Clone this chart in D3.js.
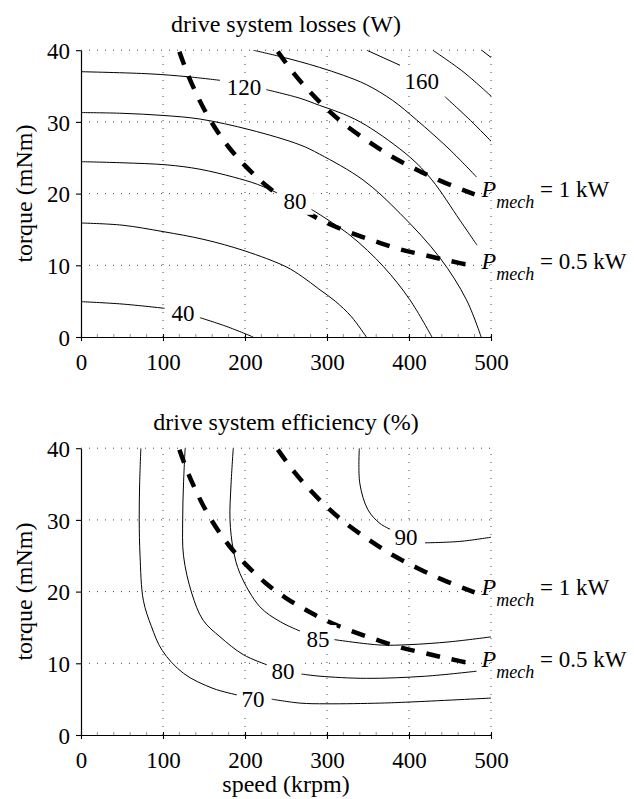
<!DOCTYPE html>
<html>
<head>
<meta charset="utf-8">
<script src="https://cdn.jsdelivr.net/npm/d3@7"></script>
<style>
  body { margin: 0; background: #fff; }
  text { white-space: pre; }
</style>
</head>
<body>
<svg id="chart" width="634" height="799"></svg>
<script>
// ---- axis ticks ----
const speedTicks = [0, 100, 200, 300, 400, 500];
const torqueTicks = [0, 10, 20, 30, 40];

// ---- drive system losses (W): contour segments, [speed krpm, torque mNm] ----
const loss40 = [
  [[0, 4.93], [50, 4.6], [102, 4.0]],
  [[145, 2.7], [178, 1.45], [210, 0]]
];
const loss60 = [
  [[0, 15.9], [50, 15.6], [100, 14.7], [150, 13.6], [200, 12.0], [250, 9.8], [270, 8.4], [290, 6.7], [310, 5.0], [330, 2.8], [348, 0]]
];
const loss80 = [
  [[0, 24.45], [50, 24.3], [105, 24.0], [145, 23.4], [186, 22.3], [215, 21.3], [239, 20.1]],
  [[281, 17.8], [328, 14.2], [369, 9.8], [401, 5.2], [428, 0]]
];
const loss100 = [
  [[0, 31.3], [50, 31.2], [100, 30.9], [145, 30.4], [206, 28.9], [267, 26.8], [291, 25.5], [344, 21.9], [389, 17.25], [438, 11.0], [470, 5.2], [488, 0]]
];
const loss120 = [
  [[0, 37.0], [84, 36.7], [130, 36.3], [169.5, 35.8]],
  [[226, 34.5], [267, 33.3], [291, 32.3], [320, 31.1], [348, 29.5], [401, 25.1], [428, 21.9], [462, 16.3], [483, 12.8]]
];
const loss140 = [
  [[210, 40], [240, 39.2], [267, 38.4], [291, 37.6], [320, 36.5], [348, 35.2], [380, 33.0], [409, 30.3], [450, 26.1], [482.5, 22.3]]
];
const loss160 = [
  [[348.4, 40], [389, 37.9]],
  [[444, 33.5], [475, 30.2], [501, 27.2]]
];
const loss180 = [
  [[429, 40], [466, 37.0], [501, 33.5]]
];
const loss200 = [
  [[488.6, 40], [501, 38.9]]
];
const lossLabelText = ['40', '80', '120', '160'];
const lossLabelAt = [[124.4, 3.35], [261, 18.97], [198.8, 34.8], [415.5, 35.7]];

// ---- drive system efficiency (%): contour segments ----
const eff70 = [
  [[73, 40], [71.5, 35], [71, 30], [72, 25], [76, 18.8], [86, 15.1], [99, 11.8], [125, 8.6], [161, 6.5], [190, 5.6]],
  [[232.5, 5.0], [267, 4.45], [300, 4.35], [365, 4.45], [401, 4.6], [500, 5.15]]
];
const eff80 = [
  [[127, 40], [125, 35], [124, 30], [125, 25], [135, 19.8], [149, 16.0], [169.5, 13.7], [198, 11.2], [226.5, 9.8]],
  [[269, 8.5], [291.5, 8.2], [348, 7.9], [420, 8.2], [482.5, 8.9]]
];
const eff85 = [
  [[185.7, 40], [183, 35], [181.7, 30], [185.8, 25.8], [194, 22.5], [218, 17.9], [243, 15.8], [267, 14.5]],
  [[309, 13.3], [365, 12.55], [400, 12.6], [450, 13.0], [501, 13.7]]
];
const eff90 = [
  [[339.4, 40], [340, 35.1], [350, 31.4], [364.6, 29.5], [377, 28.7]],
  [[419.5, 26.8], [462, 27.0], [501, 27.6]]
];
const effLabelText = ['70', '80', '85', '90'];
const effLabelAt = [[209.8, 5.02], [246.3, 8.93], [289, 13.4], [396.3, 27.6]];

// ---- constant mechanical power curves ----
const pMech1kW = [[240, 39.8], [260, 36.7], [280, 34.1], [300, 31.8], [320, 29.8], [350, 27.3], [380, 25.1], [410, 23.3], [440, 21.7], [480, 19.9]];
const pMech05kW = [[120, 39.8], [130, 36.7], [140, 34.1], [150, 31.8], [165, 28.9], [180, 26.5], [200, 23.9], [225, 21.2], [250, 19.1], [275, 17.4], [300, 15.9], [330, 14.5], [360, 13.3], [390, 12.2], [420, 11.4], [450, 10.6], [480, 9.9]];
const pMechCurves = [pMech1kW, pMech05kW];
const pMechText = ['1 kW', '0.5 kW'];

const FONT = '"Liberation Serif", "Times New Roman", Times, serif';
const FS = 23;
const FS_TITLE = 24;

const svg = d3.select('#chart');
svg.append('rect').attr('width', 634).attr('height', 799).attr('fill', '#fff');

const x = d3.scaleLinear().domain([0, 500]).range([81, 491]);

function drawPanel(cfg, idx) {
  const y = d3.scaleLinear().domain([0, 40]).range([cfg.bottom, cfg.bottom - 286.8]);
  const g = svg.append('g');

  const clipId = 'plot-clip-' + idx;
  g.append('clipPath').attr('id', clipId)
    .append('rect')
    .attr('x', x(0)).attr('y', y(40))
    .attr('width', x(500) - x(0)).attr('height', y(0) - y(40));

  // dotted grid
  const grid = g.append('g').attr('stroke', '#444').attr('stroke-width', 1).attr('fill', 'none');
  grid.selectAll('line.v').data(speedTicks.filter(v => v > 0)).join('line')
    .attr('x1', d => x(d)).attr('x2', d => x(d))
    .attr('y1', y(0)).attr('y2', y(40))
    .attr('stroke-dasharray', '1,7');
  grid.selectAll('line.h').data(torqueTicks.filter(v => v > 0)).join('line')
    .attr('x1', x(0)).attr('x2', x(500))
    .attr('y1', d => y(d)).attr('y2', d => y(d))
    .attr('stroke-dasharray', '1,7');

  // minor ticks on the speed axis
  g.append('g').selectAll('line').data(d3.range(20, 500, 20).filter(v => v % 100 !== 0)).join('line')
    .attr('x1', d => x(d)).attr('x2', d => x(d))
    .attr('y1', y(0)).attr('y2', y(0) - 3)
    .attr('stroke', '#777').attr('stroke-width', 0.8);

  const line = d3.line()
    .x(d => x(d[0])).y(d => y(d[1]))
    .curve(d3.curveCatmullRom.alpha(0.5));

  // constant power curves (thick dashes)
  const pm = g.append('g').attr('clip-path', `url(#${clipId})`);
  pMechCurves.forEach(c => {
    pm.append('path').attr('d', line(c))
      .attr('fill', 'none').attr('stroke', '#000')
      .attr('stroke-width', 4.5).attr('stroke-dasharray', '14,12');
  });

  // white boxes behind contour labels
  const labelG = g.append('g');
  cfg.labelText.forEach((t, i) => {
    const p = cfg.labelAt[i];
    const w = t.length * FS * 0.5;
    labelG.append('rect')
      .attr('x', x(p[0]) - w / 2 - 7).attr('y', y(p[1]) - FS * 0.34 - 6)
      .attr('width', w + 14).attr('height', FS * 0.68 + 12)
      .attr('fill', '#fff');
  });

  // contour lines
  const cg = g.append('g').attr('clip-path', `url(#${clipId})`);
  cfg.contours.forEach(segs => segs.forEach(seg => {
    cg.append('path').attr('d', line(seg))
      .attr('fill', 'none').attr('stroke', '#000').attr('stroke-width', 1);
  }));

  // contour label text
  cfg.labelText.forEach((t, i) => {
    const p = cfg.labelAt[i];
    labelG.append('text')
      .attr('x', x(p[0])).attr('y', y(p[1]))
      .attr('dy', '0.34em')
      .attr('text-anchor', 'middle')
      .attr('font-family', FONT).attr('font-size', FS)
      .text(t);
  });

  // P_mech annotations at the end of each power curve
  pMechCurves.forEach((c, i) => {
    const end = c[c.length - 1];
    const t = g.append('text')
      .attr('x', x(end[0]) + 7).attr('y', y(end[1]) + 3)
      .attr('font-family', FONT).attr('font-size', FS);
    t.append('tspan').attr('font-style', 'italic').attr('font-size', FS_TITLE).text('P');
    t.append('tspan').attr('font-style', 'italic').attr('font-size', 18).attr('dy', 11).text('mech');
    t.append('tspan').attr('dy', -11).text(' = ' + pMechText[i]);
  });

  // axes
  const xAxis = g.append('g')
    .attr('transform', `translate(0,${y(0)})`)
    .call(d3.axisBottom(x).tickValues(speedTicks).tickSize(4).tickSizeOuter(0).tickPadding(13));
  xAxis.selectAll('.tick line').attr('y1', -3).attr('y2', 4);
  const yAxis = g.append('g')
    .attr('transform', `translate(${x(0)},0)`)
    .call(d3.axisLeft(y).tickValues(torqueTicks).tickSize(5).tickSizeOuter(0).tickPadding(6));
  yAxis.selectAll('.tick text').attr('dy', '0.36em');
  [xAxis, yAxis].forEach(a => {
    a.attr('font-family', FONT).attr('font-size', FS);
    a.select('.domain').attr('stroke-width', 1.2);
    a.selectAll('.tick line').attr('stroke-width', 1.1);
  });

  // titles
  g.append('text')
    .attr('x', 286).attr('y', y(40) - 18)
    .attr('text-anchor', 'middle')
    .attr('font-family', FONT).attr('font-size', FS_TITLE)
    .text(cfg.title);
  g.append('text')
    .attr('transform', `translate(32,${(y(0) + y(40)) / 2}) rotate(-90)`)
    .attr('text-anchor', 'middle')
    .attr('font-family', FONT).attr('font-size', FS_TITLE)
    .text('torque (mNm)');
}

drawPanel({
  bottom: 337,
  title: 'drive system losses (W)',
  contours: [loss40, loss60, loss80, loss100, loss120, loss140, loss160, loss180, loss200],
  labelText: lossLabelText,
  labelAt: lossLabelAt
}, 0);

drawPanel({
  bottom: 735,
  title: 'drive system efficiency (%)',
  contours: [eff70, eff80, eff85, eff90],
  labelText: effLabelText,
  labelAt: effLabelAt
}, 1);

svg.append('text')
  .attr('x', 286).attr('y', 792)
  .attr('text-anchor', 'middle')
  .attr('font-family', FONT).attr('font-size', FS_TITLE)
  .text('speed (krpm)');
</script>
</body>
</html>
